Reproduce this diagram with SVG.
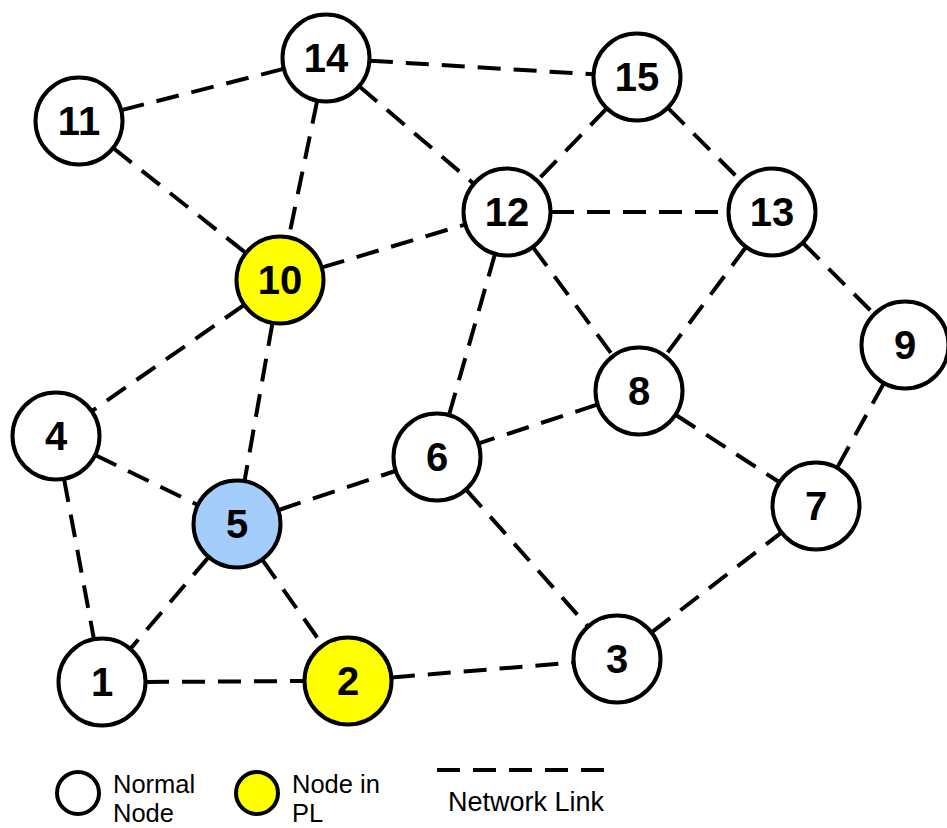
<svg xmlns="http://www.w3.org/2000/svg" width="947" height="828" viewBox="0 0 947 828">
  <style>
    .link { stroke: #000; stroke-width: 4; stroke-dasharray: 23 13; fill: none; }
    .node circle { stroke: #000; stroke-width: 4; fill: #fff; }
    .node.pl circle { fill: #ffff00; }
    .node.src circle { fill: #a4cdfb; }
    .node text { font-family: "Liberation Sans", Arial, sans-serif; font-weight: bold; font-size: 40px; text-anchor: middle; fill: #000; }
    .legend text { font-family: "Liberation Sans", Arial, sans-serif; font-size: 25.5px; fill: #000; }
    .legend text.wide { font-size: 27px; }
    .legend circle { stroke: #000; stroke-width: 4; fill: #fff; }
  </style>
  <rect width="947" height="828" fill="#fff"/>

  <!-- network links (edge to edge) -->
  <g id="links">
    <line class="link" x1="369.9" y1="60.7" x2="593.1" y2="74.3"/>
    <line class="link" x1="283.4" y1="68.9" x2="121.6" y2="110.1"/>
    <line class="link" x1="317.1" y1="101.1" x2="288.9" y2="236.9"/>
    <line class="link" x1="359.5" y1="86.5" x2="473.5" y2="183.5"/>
    <line class="link" x1="113.5" y1="148.3" x2="245.5" y2="252.7"/>
    <line class="link" x1="322.1" y1="267.4" x2="464.9" y2="224.6"/>
    <line class="link" x1="606.5" y1="108.7" x2="537.5" y2="180.3"/>
    <line class="link" x1="668.1" y1="108.1" x2="740.9" y2="180.9"/>
    <line class="link" x1="551" y1="212" x2="728" y2="212"/>
    <line class="link" x1="494.9" y1="254.3" x2="449.1" y2="414.7"/>
    <line class="link" x1="533.1" y1="247.4" x2="612.9" y2="355.6"/>
    <line class="link" x1="745.8" y1="247.3" x2="665.2" y2="355.7"/>
    <line class="link" x1="803.1" y1="243.1" x2="873.9" y2="313.9"/>
    <line class="link" x1="883.7" y1="383.5" x2="837.3" y2="467.5"/>
    <line class="link" x1="597.2" y1="404.7" x2="478.8" y2="443.3"/>
    <line class="link" x1="675.9" y1="415.0" x2="779.1" y2="482.0"/>
    <line class="link" x1="243.9" y1="305.1" x2="92.1" y2="410.9"/>
    <line class="link" x1="272.4" y1="323.3" x2="244.6" y2="480.7"/>
    <line class="link" x1="95.6" y1="455.2" x2="197.4" y2="504.8"/>
    <line class="link" x1="64.1" y1="479.2" x2="93.9" y2="638.8"/>
    <line class="link" x1="278.7" y1="510.0" x2="395.3" y2="471.0"/>
    <line class="link" x1="208.4" y1="557.4" x2="130.6" y2="648.6"/>
    <line class="link" x1="262.4" y1="559.9" x2="322.6" y2="645.1"/>
    <line class="link" x1="146" y1="682" x2="304" y2="681"/>
    <line class="link" x1="391.9" y1="677.4" x2="573.1" y2="662.6"/>
    <line class="link" x1="466.3" y1="489.8" x2="587.7" y2="626.2"/>
    <line class="link" x1="651.9" y1="632.2" x2="781.1" y2="532.8"/>
  </g>

  <!-- nodes -->
  <g id="node-14" class="node"><circle cx="326" cy="58" r="43.5"/><text x="326" y="72">14</text></g>
  <g id="node-15" class="node"><circle cx="637" cy="77" r="43.5"/><text x="637" y="91">15</text></g>
  <g id="node-11" class="node"><circle cx="79" cy="121" r="43.5"/><text x="79" y="135">11</text></g>
  <g id="node-12" class="node"><circle cx="507" cy="212" r="43.5"/><text x="507" y="226">12</text></g>
  <g id="node-13" class="node"><circle cx="772" cy="212" r="43.5"/><text x="772" y="226">13</text></g>
  <g id="node-10" class="node pl"><circle cx="280" cy="280" r="43.5"/><text x="280" y="294">10</text></g>
  <g id="node-9" class="node"><circle cx="905" cy="345" r="43.5"/><text x="905" y="359">9</text></g>
  <g id="node-8" class="node"><circle cx="639" cy="391" r="43.5"/><text x="639" y="405">8</text></g>
  <g id="node-4" class="node"><circle cx="56" cy="436" r="43.5"/><text x="56" y="450">4</text></g>
  <g id="node-6" class="node"><circle cx="437" cy="457" r="43.5"/><text x="437" y="471">6</text></g>
  <g id="node-5" class="node src"><circle cx="237" cy="524" r="43.5"/><text x="237" y="538">5</text></g>
  <g id="node-7" class="node"><circle cx="816" cy="506" r="43.5"/><text x="816" y="520">7</text></g>
  <g id="node-3" class="node"><circle cx="617" cy="659" r="43.5"/><text x="617" y="673">3</text></g>
  <g id="node-1" class="node"><circle cx="102" cy="682" r="43.5"/><text x="102" y="696">1</text></g>
  <g id="node-2" class="node pl"><circle cx="348" cy="681" r="43.5"/><text x="348" y="695">2</text></g>

  <!-- legend -->
  <g id="legend" class="legend">
    <circle cx="78" cy="793" r="21"/>
    <text x="113" y="793">Normal</text>
    <text x="113" y="822">Node</text>
    <circle cx="257" cy="793" r="21" style="fill:#ffff00"/>
    <text x="292" y="793">Node in</text>
    <text x="292" y="822">PL</text>
    <line class="link" x1="437" y1="770" x2="606" y2="770"/>
    <text class="wide" x="448" y="811">Network Link</text>
  </g>
</svg>
